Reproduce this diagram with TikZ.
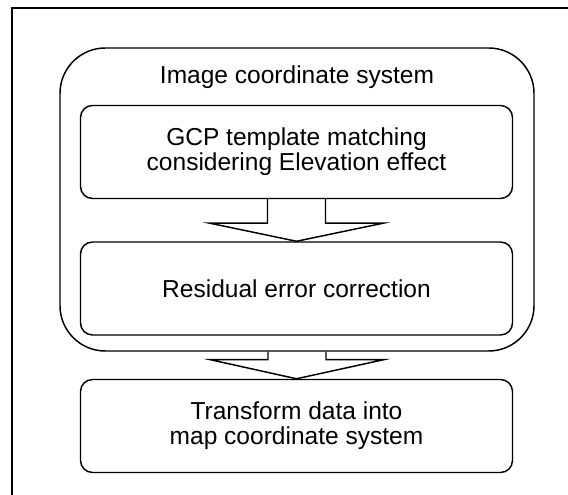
\documentclass[tikz,border=0pt]{standalone}
\usepackage{fontspec}
\setmainfont{Liberation Sans}
\usetikzlibrary{calc}
\begin{document}
\begin{tikzpicture}[x=0.75pt,y=-0.75pt,
  boxline/.style={line width=1.1pt},
  txt/.style={font=\fontsize{18.4pt}{18.8pt}\selectfont},
  stepbox/.style={boxline, draw, txt, rounded corners=9pt, minimum width=432*0.75pt, minimum height=93*0.75pt, inner sep=0pt, align=center},
  outerbox/.style={boxline, draw, rounded corners=34pt, minimum width=474*0.75pt, minimum height=303*0.75pt, inner sep=0pt},
  blockarrow/.style={boxline, line join=miter}]
\useasboundingbox (0,0) rectangle (568,495);
% frame
\coordinate (fb) at (12,500);
\coordinate (ft) at (12,8);
\coordinate (fr) at (575,8);
\draw[line width=0.9pt] (fb) -- (ft) -- (fr);
% outer box
\node[outerbox] (outer) at (297,199.5) {};
\node[anchor=base, txt] (title) at (297,84) {Image coordinate system};
% inner boxes
\node[stepbox] (b1) at (296.5,152) {GCP template matching\\considering Elevation effect};
\node[stepbox] (b2) at (296.5,288.5) {Residual error correction};
\node[stepbox] (b3) at (296.5,426) {Transform data into\\map coordinate system};
% block arrow 1
\draw[blockarrow] ($(b1.south)+(-29,0)$) -- ($(b1.south)+(-29,24)$) -- ($(b1.south)+(-86.5,24)$)
  -- (b2.north) -- ($(b1.south)+(86.5,24)$) -- ($(b1.south)+(29,24)$) -- ($(b1.south)+(29,0)$);
% block arrow 2
\draw[blockarrow] ($(outer.south)+(-29,0)$) -- ($(outer.south)+(-29,8)$) -- ($(outer.south)+(-86.5,8)$)
  -- (b3.north) -- ($(outer.south)+(86.5,8)$) -- ($(outer.south)+(29,8)$) -- ($(outer.south)+(29,0)$);
\end{tikzpicture}
\end{document}
